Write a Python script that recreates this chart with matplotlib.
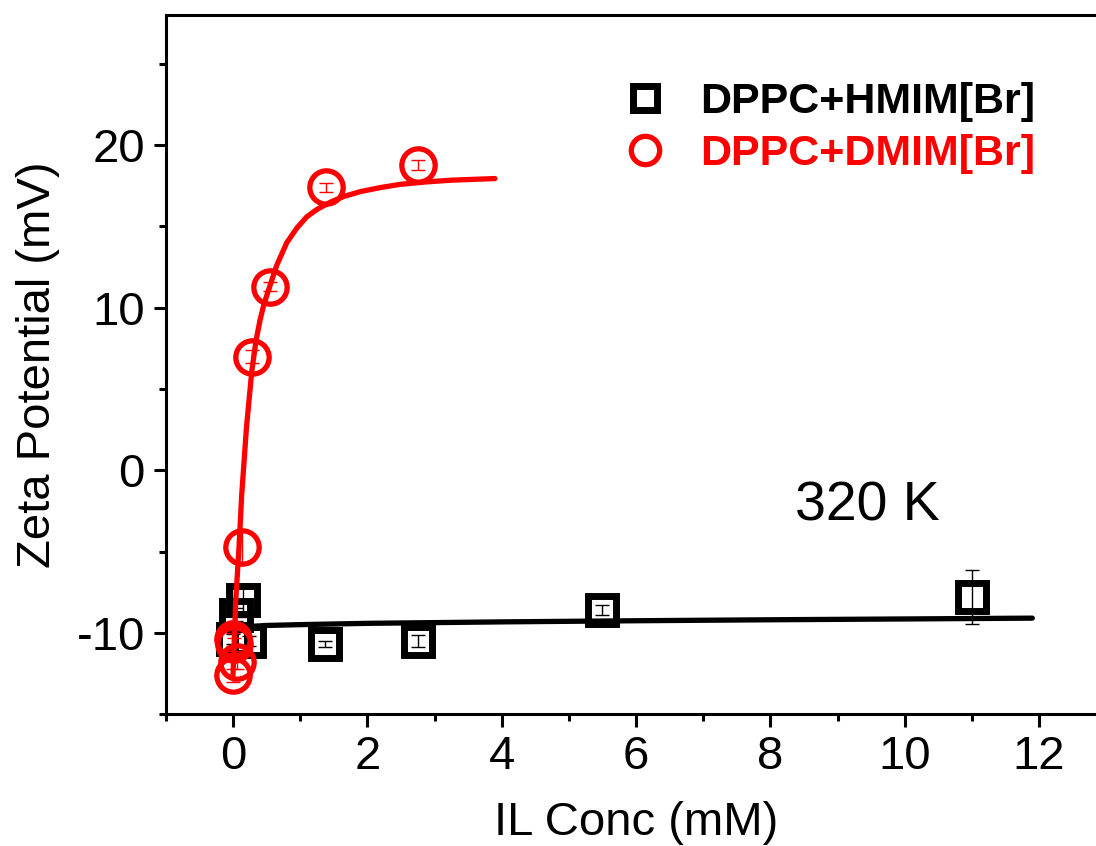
import numpy as np
import matplotlib
matplotlib.use("Agg")
import matplotlib.pyplot as plt
from matplotlib.ticker import MultipleLocator

plt.rcParams['font.family'] = ['Liberation Sans', 'DejaVu Sans']
plt.rcParams['axes.unicode_minus'] = False

# DPPC + HMIM[Br] (black squares)
hmim_x = [0.0, 0.04, 0.15, 0.24, 1.375, 2.75, 5.5, 11.0]
hmim_y = [-10.4, -8.9, -8.0, -10.5, -10.7, -10.5, -8.6, -7.8]
hmim_err = [0.3, 0.4, 1.0, 0.3, 0.2, 0.35, 0.3, 1.67]

# DPPC + DMIM[Br] (red circles)
dmim_x = [0.0, 0.015, 0.06, 0.0, 0.13, 0.28, 0.55, 1.38, 2.75]
dmim_y = [-10.4, -10.7, -11.8, -12.6, -4.75, 7.0, 11.3, 17.4, 18.8]
dmim_err = [0.4, 0.4, 0.4, 0.4, 1.0, 0.4, 0.3, 0.3, 0.3]

# fit curves
hmim_fit_x = [0.1, 0.5, 1.0, 2.0, 4.0, 6.0, 8.0, 10.0, 11.9]
hmim_fit_y = [-9.65, -9.55, -9.5, -9.42, -9.33, -9.26, -9.2, -9.15, -9.1]

dmim_fit_x = [0.0, 0.04, 0.09, 0.13, 0.2, 0.28, 0.34, 0.4, 0.46, 0.53, 0.65, 0.8, 0.95,
              1.1, 1.25, 1.45, 1.65, 1.9, 2.2, 2.5, 2.9, 3.25, 3.9]
dmim_fit_y = [-12.6, -8.1, -4.7, -1.5, 2.6, 6.1, 7.9, 9.2, 10.2, 11.1, 12.6, 14.0, 14.9,
              15.6, 16.05, 16.5, 16.85, 17.15, 17.4, 17.6, 17.75, 17.85, 17.95]

fig = plt.figure(figsize=(10.96, 8.46), dpi=100)
ax = fig.add_axes([0.1513, 0.156, 0.858, 0.826])

ax.plot(hmim_fit_x, hmim_fit_y, color='black', lw=3.8, solid_capstyle='round', zorder=3)
ax.errorbar(hmim_x, hmim_y, yerr=hmim_err, fmt='none', ecolor='black',
            elinewidth=1, capsize=5, capthick=1, zorder=2)
ax.plot(hmim_x, hmim_y, 's', ms=20, mfc='none', mec='black', mew=5,
        label='DPPC+HMIM[Br]', zorder=2)

ax.errorbar(dmim_x, dmim_y, yerr=dmim_err, fmt='none', ecolor='red',
            elinewidth=1, capsize=5, capthick=1, zorder=4)
ax.plot(dmim_x, dmim_y, 'o', ms=24, mfc='none', mec='red', mew=3.8,
        label='DPPC+DMIM[Br]', zorder=4)
ax.plot(dmim_fit_x, dmim_fit_y, color='red', lw=3.8, solid_capstyle='round',
        solid_joinstyle='round', zorder=5)

ax.set_xlim(-1, 13)
ax.set_ylim(-15, 28)
ax.xaxis.set_major_locator(MultipleLocator(2))
ax.xaxis.set_minor_locator(MultipleLocator(1))
ax.yaxis.set_major_locator(MultipleLocator(10))
ax.yaxis.set_minor_locator(MultipleLocator(5))
ax.tick_params(which='major', direction='out', length=9, width=2.2, labelsize=34, pad=6)
ax.tick_params(which='minor', direction='out', length=5, width=2.2)
for s in ax.spines.values():
    s.set_linewidth(2.2)

ax.set_xlabel('IL Conc (mM)', fontsize=34, labelpad=16)
ax.set_ylabel('Zeta Potential (mV)', fontsize=34, labelpad=12)

ax.text(9.45, -2.2, '320 K', fontsize=40, ha='center', va='center')

ax.legend(loc='center left', bbox_to_anchor=(0.4868, 0.839), frameon=False,
          prop={'weight': 'bold', 'size': 31}, labelcolor=['black', 'red'],
          handlelength=1.0, handletextpad=0.78, labelspacing=0.28,
          borderpad=0, borderaxespad=0, markerscale=0.85)

fig.savefig('out.png', dpi=100)
